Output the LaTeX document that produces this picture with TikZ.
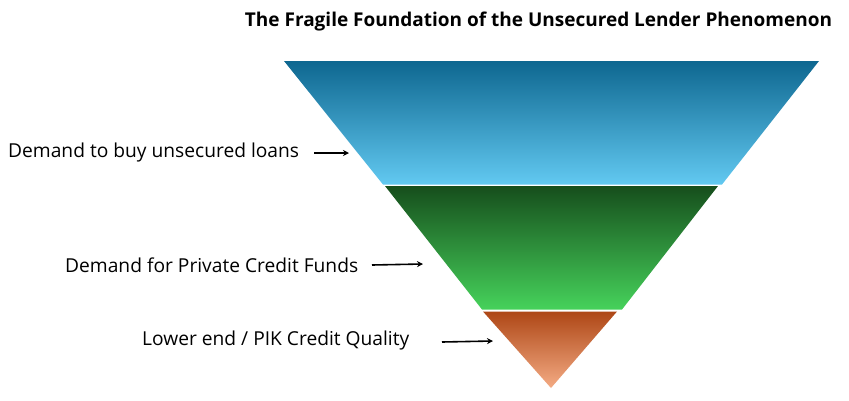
\documentclass[tikz,border=0pt]{standalone}
\usepackage{fontspec}
\setmainfont{Open Sans}
\usetikzlibrary{arrows.meta}
\definecolor{bluetop}{HTML}{0E6790}
\definecolor{bluemid}{HTML}{12A2DC}
\definecolor{bluebot}{HTML}{62C9F1}
\definecolor{greentop}{HTML}{164E1C}
\definecolor{greenmid}{HTML}{1F772B}
\definecolor{greenbot}{HTML}{46D25B}
\definecolor{orangetop}{HTML}{AE4716}
\definecolor{orangemid}{HTML}{E67838}
\definecolor{orangebot}{HTML}{F4AB84}
\tikzset{
  lbl/.style={inner sep=0pt, anchor=west, font=\fontsize{19.2}{21}\selectfont},
  arr/.style={-{Stealth[length=6pt,width=6pt]}, line width=1.6pt},
}
\begin{document}
\begin{tikzpicture}[x=1pt,y=-1pt]
\useasboundingbox (0,0) rectangle (849,400);
\fill[white] (0,0) rectangle (849,400);
% bands
\shade[top color=bluetop, middle color=bluemid, bottom color=bluebot]
  (284,61) -- (819,61) -- (722,184.5) -- (383,184.5) -- cycle;
\shade[top color=greentop, middle color=greenmid, bottom color=greenbot]
  (385,186) -- (718,186) -- (622,309.5) -- (482,309.5) -- cycle;
\shade[top color=orangetop, middle color=orangemid, bottom color=orangebot]
  (483,311.5) -- (617,311.5) -- (551,388) -- cycle;
% title
\node[font=\bfseries\fontsize{19}{21}\selectfont, inner sep=0pt] (title) at (538.5,22) {The Fragile Foundation of the Unsecured Lender Phenomenon};
% labels
\node[lbl] (l1) at (8,153) {Demand to buy unsecured loans};
\node[lbl] (l2) at (65,265) {Demand for Private Credit Funds};
\node[lbl] (l3) at (142,341) {Lower end / PIK Credit Quality};
\coordinate (s1) at (314,153); \coordinate (e1) at (349,153);
\coordinate (s2) at (372,265); \coordinate (e2) at (423,264);
\coordinate (s3) at (442,342); \coordinate (e3) at (493,341);
\draw[arr] (s1) -- (e1);
\draw[arr] (s2) -- (e2);
\draw[arr] (s3) -- (e3);
\end{tikzpicture}
\end{document}
